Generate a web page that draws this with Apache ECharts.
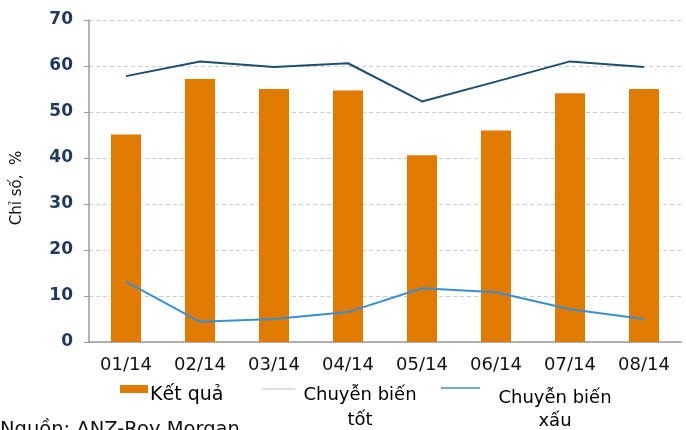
<!DOCTYPE html>
<html>
<head>
    <meta charset="utf-8">
    <title>Chỉ số</title>
    <script src="https://cdn.jsdelivr.net/npm/echarts@6/dist/echarts.min.js"></script>
    <style>
        html, body { margin: 0; padding: 0; background: #fff; }
        #chart1 { width: 686px; height: 430px; }
    </style>
</head>
<body>
<div id="chart1"></div>
<script>
    // dữ liệu
    var months = ['01/14', '02/14', '03/14', '04/14', '05/14', '06/14', '07/14', '08/14'];
    var ketQua = [45.1, 57.2, 55.0, 54.7, 40.6, 46.0, 54.1, 55.0];
    var bienTot = [57.8, 61.0, 59.8, 60.6, 52.3, 56.6, 61.0, 59.8];
    var bienXau = [13.1, 4.4, 5.0, 6.5, 11.7, 10.8, 7.1, 5.0];

    var font = 'DejaVu Sans';
    // chú thích 2 dòng, căn giữa
    function twoLines(name) {
        var parts = name.split(' ');
        return '{a|' + parts[0] + ' ' + parts[1] + '}\n{a|' + parts[2] + '}';
    }

    var myChart1 = echarts.init(document.getElementById('chart1'));
    myChart1.setOption({
        animation: false,
        textStyle: { fontFamily: font },
        grid: { left: 89, right: 5, top: 20, bottom: 88 },
        legend: [
            {
                data: ['Kết quả'], left: 120, top: 385, padding: 0,
                itemWidth: 28, itemHeight: 8, itemGap: 0, icon: 'rect',
                formatter: function (name) { return '{a|' + name + '}'; },
                textStyle: {
                    padding: [12, 0, 0, -3],
                    rich: { a: { fontSize: 19, lineHeight: 22, color: '#000' } }
                }
            },
            {
                data: ['Chuyễn biến tốt'], left: 262, top: 386, padding: 0,
                itemWidth: 33, itemHeight: 1, icon: 'rect',
                itemStyle: { color: '#b8c4cc' },
                lineStyle: { color: '#b8c4cc', width: 1 },
                formatter: twoLines,
                textStyle: {
                    padding: [37, 0, 0, 0],
                    rich: { a: { width: 120, align: 'center', fontSize: 18, lineHeight: 25, color: '#000' } }
                }
            },
            {
                data: ['Chuyễn biến xấu'], left: 441, top: 387, padding: 0,
                itemWidth: 39, itemHeight: 2, icon: 'rect',
                itemStyle: { color: '#6fa9de' },
                lineStyle: { color: '#6fa9de', width: 2 },
                formatter: twoLines,
                textStyle: {
                    padding: [43, 0, 0, 0],
                    rich: { a: { width: 140, align: 'center', fontSize: 18, lineHeight: 23, color: '#000' } }
                }
            }
        ],
        xAxis: {
            type: 'category',
            data: months,
            axisLine: { lineStyle: { color: '#9a9a9a', width: 1.5 } },
            axisTick: { length: 5, lineStyle: { color: '#9a9a9a' } },
            axisLabel: { fontSize: 18, color: '#111', margin: 14 }
        },
        yAxis: {
            type: 'value',
            name: 'Chỉ số,  %',
            nameLocation: 'middle',
            nameRotate: 90,
            nameGap: 64,
            nameTextStyle: { fontSize: 15, color: '#111', padding: [0, 14, 0, 0] },
            min: 0, max: 70, interval: 10,
            axisLine: { show: true, lineStyle: { color: '#9a9a9a', width: 1.5 } },
            axisTick: { show: true, length: 5, lineStyle: { color: '#9a9a9a' } },
            axisLabel: { fontSize: 17, fontWeight: 'bold', color: '#1f3a5c', margin: 16 },
            splitLine: { lineStyle: { color: '#c5ced6', type: [4, 3] } }
        },
        series: [
            {
                name: 'Kết quả',
                type: 'bar',
                data: ketQua,
                barWidth: 30,
                itemStyle: { color: '#e07b00' }
            },
            {
                name: 'Chuyễn biến tốt',
                type: 'line',
                data: bienTot,
                symbol: 'none',
                lineStyle: { color: '#1d4e6e', width: 2 },
                itemStyle: { color: '#1d4e6e' }
            },
            {
                name: 'Chuyễn biến xấu',
                type: 'line',
                data: bienXau,
                symbol: 'none',
                lineStyle: { color: '#3a8fd2', width: 2 },
                itemStyle: { color: '#3a8fd2' }
            }
        ],
        graphic: [
            {
                type: 'text', left: 0, top: 420,
                style: { text: 'Nguồn: ANZ-Roy Morgan', fontSize: 19.5, fill: '#111', fontFamily: font }
            }
        ]
    });
</script>
</body>
</html>
